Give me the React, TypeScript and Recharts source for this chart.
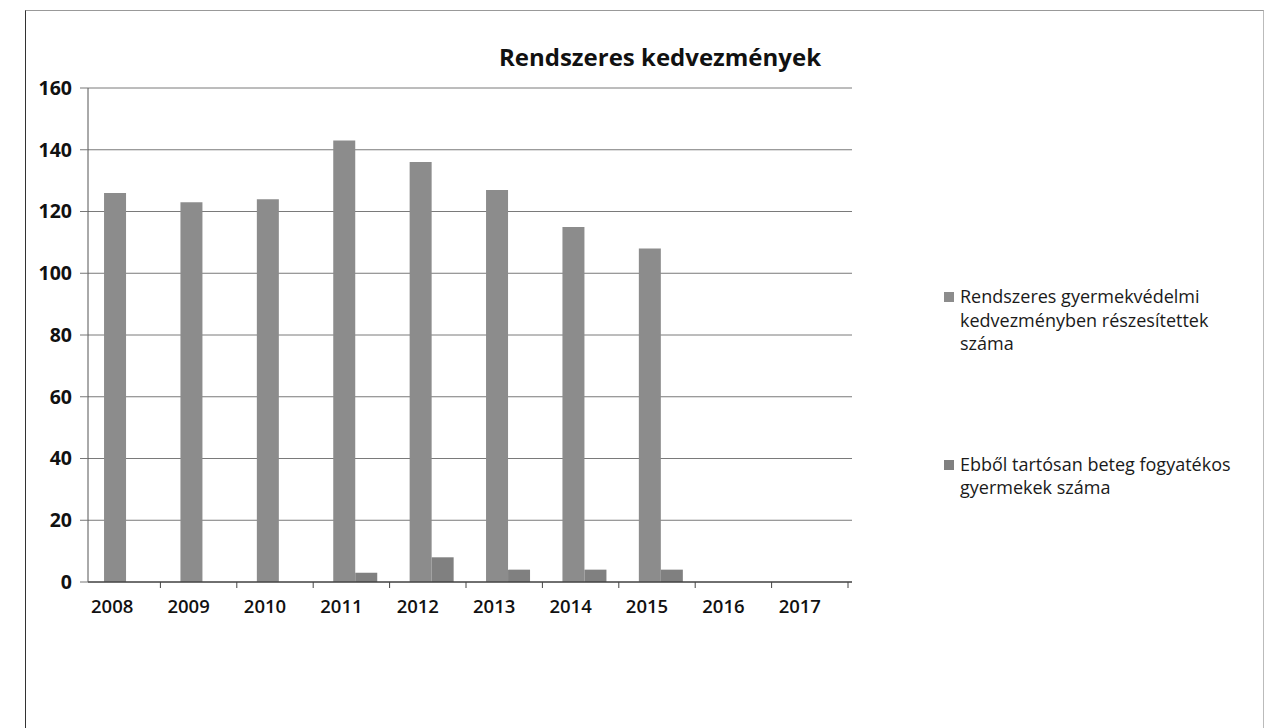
import React from "react";
import { BarChart, Bar, XAxis, YAxis, CartesianGrid } from "recharts";

const years = ["2008", "2009", "2010", "2011", "2012", "2013", "2014", "2015", "2016", "2017"];
const rendszeres = [126, 123, 124, 143, 136, 127, 115, 108, 0, 0];
const ebbol = [0, 0, 0, 3, 8, 4, 4, 4, 0, 0];
const seriesNames = [
  "Rendszeres gyermekvédelmi kedvezményben részesítettek száma",
  "Ebből tartósan beteg fogyatékos gyermekek száma",
];
const legendLines = [
  ["Rendszeres gyermekvédelmi", "kedvezményben részesítettek", "száma"],
  ["Ebből tartósan beteg fogyatékos", "gyermekek száma"],
];
const yTicks = [0, 20, 40, 60, 80, 100, 120, 140, 160];
const colors = ["#8c8c8c", "#808080"];

const data = years.map((y, i) => ({ year: y, a: rendszeres[i], b: ebbol[i] }));

const font = "'Open Sans', 'DejaVu Sans', sans-serif";

const XTick = (props: any) => {
  const { x, y, payload } = props;
  const half = payload && payload.offset ? payload.offset : 38;
  return (
    <g>
      <line x1={x + half - 4} x2={x + half - 4} y1={y - 18} y2={y - 12} stroke="#444" />
      <text
        x={x - 14}
        y={y + 8}
        textAnchor="middle"
        dominantBaseline="middle"
        fontFamily={font}
        fontSize={18.5}
        fontWeight={600}
        fill="#111"
      >
        {payload.value}
      </text>
    </g>
  );
};

const LegendBox = () => (
  <div
    style={{
      position: "absolute",
      left: 944,
      top: 285,
      width: 330,
      fontFamily: font,
      fontSize: 18,
      color: "#1a1a1a",
      lineHeight: "23.5px",
      whiteSpace: "nowrap",
    }}
  >
    {legendLines.map((lines, i) => (
      <div key={i} title={seriesNames[i]} style={{ position: "relative", paddingLeft: 16, marginBottom: i === 0 ? 97 : 0 }}>
        <span
          style={{
            position: "absolute",
            left: 0,
            top: 7,
            width: 10,
            height: 10,
            background: colors[i],
          }}
        />
        {lines.map((l, j) => (
          <div key={j}>{l}</div>
        ))}
      </div>
    ))}
  </div>
);

export default function App() {
  return (
    <div style={{ position: "absolute", left: 0, top: 0, width: 1274, height: 728, background: "#fff", overflow: "hidden" }}>
      <div
        style={{
          position: "absolute",
          left: 25,
          top: 10,
          width: 1237,
          height: 740,
          borderLeft: "1.5px solid #333",
          borderTop: "1px solid #999",
          borderRight: "1px solid #bbb",
        }}
      />
      <div
        style={{
          position: "absolute",
          left: 460,
          top: 40,
          width: 400,
          textAlign: "center",
          fontFamily: font,
          fontWeight: 700,
          fontSize: 24,
          color: "#111",
        }}
      >
        Rendszeres kedvezmények
      </div>
      <BarChart
        width={1274}
        height={728}
        data={data}
        margin={{ top: 88, right: 422, bottom: 0, left: 0 }}
        barCategoryGap="21%"
        barGap={0}
        style={{ position: "absolute", left: 0, top: 0 }}
      >
        <CartesianGrid vertical={false} stroke="#7a7a7a" strokeWidth={1} />
        <XAxis
          dataKey="year"
          height={146}
          tickSize={6}
          tickMargin={12}
          tickLine={false}
          axisLine={{ stroke: "#222" }}
          tick={<XTick />}
          interval={0}
        />
        <YAxis
          domain={[0, 160]}
          ticks={yTicks}
          width={88}
          tickSize={8}
          tickMargin={8}
          axisLine={{ stroke: "#555" }}
          tickLine={{ stroke: "#777" }}
          tick={{ fontFamily: font, fontSize: 19.5, fontWeight: 700, fill: "#111" }}
        />
        <Bar dataKey="a" name={seriesNames[0]} fill={colors[0]} isAnimationActive={false} />
        <Bar dataKey="b" name={seriesNames[1]} fill={colors[1]} isAnimationActive={false} />
      </BarChart>
      <LegendBox />
    </div>
  );
}
